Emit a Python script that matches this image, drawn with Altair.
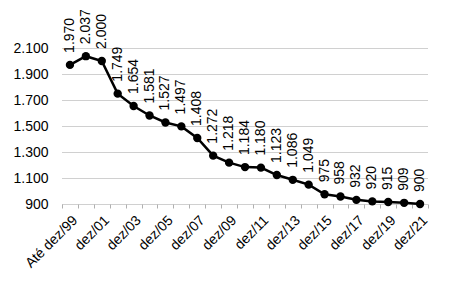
import altair as alt
import pandas as pd

categories = ["Até dez/99", "dez/00", "dez/01", "dez/02", "dez/03", "dez/04", "dez/05",
              "dez/06", "dez/07", "dez/08", "dez/09", "dez/10", "dez/11", "dez/12",
              "dez/13", "dez/14", "dez/15", "dez/16", "dez/17", "dez/18", "dez/19",
              "dez/20", "dez/21"]
values = [1970, 2037, 2000, 1749, 1654, 1581, 1527, 1497, 1408, 1272, 1218, 1184,
          1180, 1123, 1086, 1049, 975, 958, 932, 920, 915, 909, 900]
y_ticks = [900, 1100, 1300, 1500, 1700, 1900, 2100]

df = pd.DataFrame({"cat": categories, "val": values})
df["lbl"] = [f"{v:,}".replace(",", ".") for v in values]

hidden = [c for i, c in enumerate(categories) if i % 2 == 1]
label_expr = "indexof([" + ",".join(f"'{c}'" for c in hidden) + "], datum.label) >= 0 ? '' : datum.label"

FONT = "Liberation Sans"

x = alt.X("cat:N", sort=categories, title=None,
          scale=alt.Scale(paddingInner=0, paddingOuter=0),
          axis=alt.Axis(labelAngle=-45, labelAlign="right", labelBaseline="top",
                        labelExpr=label_expr, labelFont=FONT, labelFontSize=14,
                        labelColor="black", labelPadding=5, domain=False,
                        ticks=True, tickBand="extent", tickColor="#b0b0b0",
                        tickSize=4, grid=False, labelOverlap=False, labelBound=False))
y = alt.Y("val:Q", title=None,
          scale=alt.Scale(domain=[900, 2100], nice=False, zero=False),
          axis=alt.Axis(values=y_ticks, labelFont=FONT, labelFontSize=14,
                        labelColor="black", labelPadding=14, ticks=False, domain=False,
                        gridColor="#a0a0a0", gridDash=[1, 1], gridWidth=1.2,
                        labelExpr="replace(format(datum.value, ','), ',', '.')"))

base = alt.Chart(df).encode(x=x, y=y)
line = base.mark_line(color="black", strokeWidth=2.5)
pts = base.mark_point(filled=True, color="black", size=70, opacity=1)
txt = base.mark_text(angle=270, align="left", baseline="middle", dx=12,
                     font=FONT, fontSize=14, color="black").encode(text="lbl:N")

chart = alt.layer(line, pts, txt).properties(
    width=366, height=156,
    autosize=alt.AutoSizeParams(type="none"),
    padding={"left": 54, "top": 40, "right": 10, "bottom": 80},
).configure_view(stroke=None)

chart.save("out.html", embed_options={"renderer": "svg", "actions": False})
